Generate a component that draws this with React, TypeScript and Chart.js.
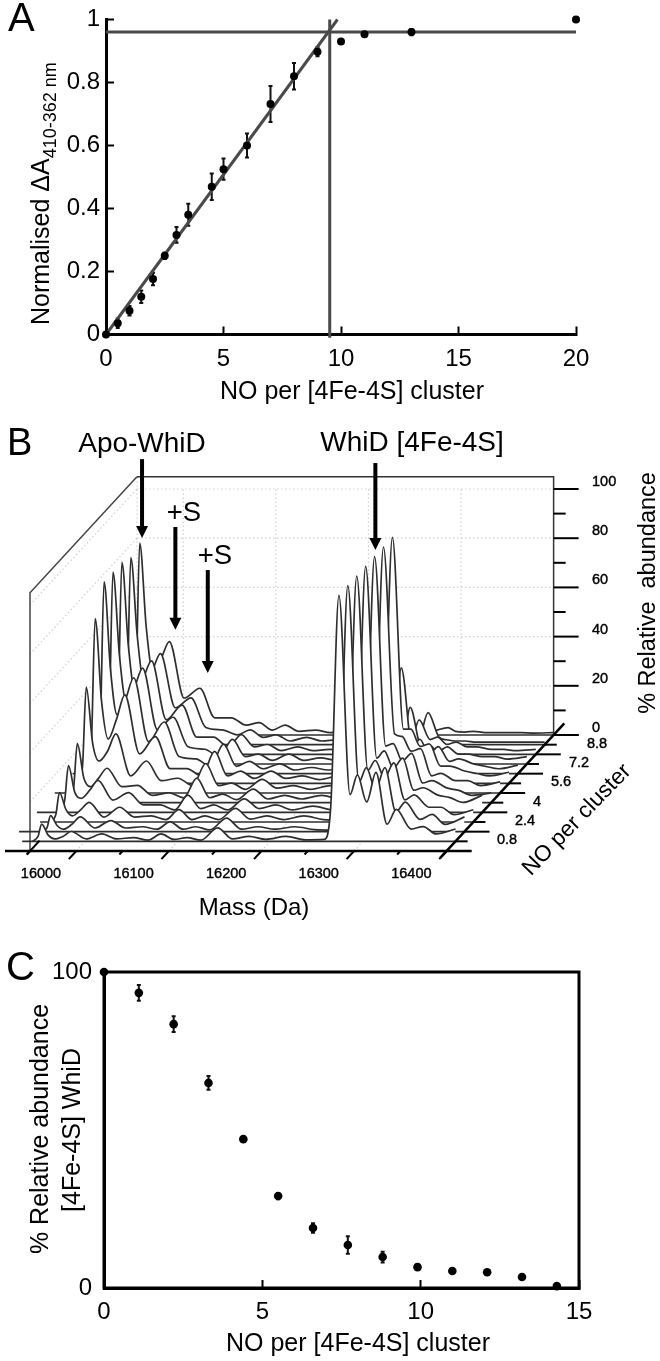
import React, { useEffect, useRef } from "react";
import { Chart, registerables } from "chart.js";

Chart.register(...registerables);
Chart.defaults.font.family = '"Liberation Sans", Arial, sans-serif';
Chart.defaults.color = "#000";

// ---------- Panel A ----------
const titrationNO = [0, 0.5, 1, 1.5, 2, 2.5, 3, 3.5, 4.5, 5, 6, 7, 8, 9, 10, 11, 13, 20];
const titrationAbs = [0, 0.036, 0.0755, 0.12, 0.176, 0.25, 0.316, 0.38, 0.469, 0.525, 0.6, 0.732, 0.82, 0.898, 0.93, 0.953, 0.96, 1.0];
const titrationErr = [0, 0.015, 0.015, 0.02, 0.02, 0.01, 0.025, 0.035, 0.042, 0.034, 0.038, 0.057, 0.042, 0.015, 0, 0, 0.01, 0];
const fitRise = [{ x: 0, y: 0 }, { x: 9.85, y: 1.0 }];
const fitPlateau = [{ x: 0, y: 0.96 }, { x: 20, y: 0.96 }];
const fitBreak = [{ x: 9.52, y: -0.01 }, { x: 9.52, y: 1.0 }];

// ---------- Panel C ----------
const clusterNO = [0, 1.1, 2.2, 3.3, 4.4, 5.5, 6.6, 7.7, 8.8, 9.9, 11, 12.1, 13.2, 14.3];
const clusterAbundance = [100, 93.4, 83.5, 64.9, 47.1, 29.1, 19, 13.6, 9.8, 6.6, 5.4, 5, 3.5, 0.6];
const clusterErr = [0, 2.5, 2.5, 2.2, 0, 1, 1.5, 2.8, 1.7, 0.8, 0, 0, 0, 0];

// ---------- Panel B ----------
const massGrid = [15993, 15999, 16003, 16010, 16017, 16026, 16035, 16051, 16068, 16084, 16102, 16118, 16132, 16146, 16160, 16175, 16193, 16209, 16227, 16245, 16267, 16288, 16308, 16315, 16324, 16336, 16344, 16354, 16364, 16376, 16386, 16402, 16415, 16429, 16450];
const traceNO = [0.8, 1.6, 2.4, 3.2, 4, 4.8, 5.6, 6.4, 7.2, 8, 8.8, 9.6];
const traceAbundance = [
  [0, 2, 7, 2.5, 1, 2, 4, 1, 3, 1, 1.5, 0.5, 3, 0.8, 1.5, 0.5, 5.5, 1, 2, 0.8, 2, 0.6, 0.8, 13, 100, 19, 27, 16, 28, 7, 13, 5, 6, 3, 5],
  [0, 1.5, 6.5, 2.5, 1, 3, 6, 1.5, 4.5, 1.5, 2, 1, 4, 1, 2, 0.7, 5.5, 1, 2, 1, 2, 0.8, 0.6, 13, 100, 20, 26, 17, 26, 8, 12, 5, 7, 3, 6],
  [0, 3, 12, 5, 2.5, 5, 8, 2, 6, 2, 2.5, 1, 5, 1, 2.5, 1, 5.5, 1.2, 2.5, 1, 2.5, 1, 0.8, 14, 100, 21, 25, 18, 24, 9, 11, 6, 6, 3, 5],
  [0, 5, 19, 8, 5.7, 9, 13, 5, 8, 3, 3, 1, 7, 1.5, 3, 1, 5.5, 1.5, 3, 1, 2.5, 1, 0.8, 14, 100, 22, 25, 18, 22, 9, 10, 7, 6, 4, 7],
  [0, 6, 24, 10, 6.5, 10, 14, 6.5, 7, 3, 4, 2, 10, 2, 3.5, 1.2, 5.5, 1.5, 3, 1.5, 3, 1.2, 1, 14, 100, 23, 24, 17, 20, 8, 9, 6, 5, 3, 4],
  [0, 11, 43, 20, 13, 17, 24, 7, 13, 5, 6, 3, 12, 3, 4, 1.5, 5.5, 2, 3, 1.5, 3, 1.2, 1, 14, 100, 24, 23, 17, 18, 7, 8, 5, 5, 3, 4.5],
  [0, 17, 67, 33, 18, 26, 36, 12, 19, 6, 6, 3, 13, 3, 5, 2, 5, 2, 3, 1.5, 3, 1.5, 1, 14, 100, 22, 22, 15, 16, 7, 7, 5, 4, 3, 4.5],
  [0, 20, 78, 42, 24, 30, 39, 13, 21, 7, 6, 3, 12, 3, 5, 2, 4, 1.5, 2.5, 1.5, 2.5, 1.2, 1, 6, 43, 10, 14, 8, 11, 5, 6, 4, 3, 2, 3.5],
  [0, 20, 78, 44, 26, 31, 39, 14, 19, 7, 6, 3, 10, 3, 4, 1.5, 4, 1.5, 2.5, 1.5, 2.5, 1.2, 0.8, 3, 23, 7, 8, 5, 7, 4, 4, 3, 3, 2, 3],
  [0, 20, 78, 44, 26, 31, 38, 14, 20, 7, 7, 3, 8, 3, 4, 1.5, 3, 1.5, 2, 1.5, 2, 1, 0.8, 3, 14, 6, 7, 4, 5, 3, 3, 2, 2, 1.5, 2],
  [0, 19, 76, 44, 26, 30, 37, 15, 19, 7, 6, 4, 6, 3, 4, 1.5, 3, 1.5, 2, 1, 2, 1, 0.8, 2.5, 13, 3, 2, 1.5, 1.5, 1, 1, 1, 1, 1, 1],
  [0, 20, 78, 44, 26, 31, 38, 15, 19, 7, 7, 4, 5, 2, 4, 1.5, 2, 1, 2, 1, 1.5, 1, 0.8, 1, 2, 3, 1.5, 1.2, 1.5, 1, 1, 1, 1, 0.8, 1],
];
const massTickLabels = [16000, 16100, 16200, 16300, 16400];
const massMinorTicks = [16000, 16050, 16100, 16150, 16200, 16250, 16300, 16350, 16400, 16450];
const abundanceTicks = [0, 20, 40, 60, 80, 100];
const abundanceMinorTicks = [0, 10, 20, 30, 40, 50, 60, 70, 80, 90, 100];
const wallGridMasses = [16050, 16150, 16250, 16350];
const wallGridLevels = [20, 40, 60, 80, 100];
const noLabels = ["0.8", "2.4", "4", "5.6", "7.2", "8.8"];
const arrowMass = [16121, 16157, 16192, 16373];
const arrowFrom = [159.3, 131.7, 114.2, 157.7];
const arrowTip = [127.2, 89.9, 72.4, 122.4];

// depth axis of the 3-D box, in axis units
const DEPTH_MASS = 115.5;
const DEPTH_ABUND = 47.15;
const MASS_END = 16450;
const WALL_TOP = 105;
const proj = (m: number, a: number, d: number) => ({ x: m + d * DEPTH_MASS, y: a + d * DEPTH_ABUND });

type Txt = { t: string; x: number; y: number; font: string; rot?: number; align?: CanvasTextAlign; heavy?: boolean };

const textPlugin = {
  id: "texts",
  afterDraw(chart: any, _a: any, opts: any) {
    const ctx = chart.ctx;
    (opts.items || []).forEach((it: Txt) => {
      ctx.save();
      ctx.translate(it.x, it.y);
      if (it.rot) ctx.rotate(it.rot);
      ctx.font = it.font;
      ctx.fillStyle = "#000";
      ctx.textAlign = it.align || "center";
      ctx.textBaseline = "middle";
      if (it.heavy) {
        ctx.strokeStyle = "#000";
        ctx.lineWidth = 0.4;
        ctx.strokeText(it.t, 0, 0);
      }
      ctx.fillText(it.t, 0, 0);
      ctx.restore();
    });
  },
};

const errorPlugin = {
  id: "errs",
  beforeDatasetsDraw(chart: any, _a: any, opts: any) {
    if (!opts.err) return;
    const { ctx, scales } = chart;
    ctx.save();
    ctx.strokeStyle = "#111";
    ctx.lineWidth = 2;
    opts.xs.forEach((x: number, i: number) => {
      const e = opts.err[i];
      if (!e) return;
      const px = scales.x.getPixelForValue(x);
      const lo = scales.y.getPixelForValue(opts.ys[i] - e);
      const hi = scales.y.getPixelForValue(opts.ys[i] + e);
      ctx.beginPath();
      ctx.moveTo(px, lo);
      ctx.lineTo(px, hi);
      ctx.moveTo(px - 2, lo);
      ctx.lineTo(px + 2, lo);
      ctx.moveTo(px - 2, hi);
      ctx.lineTo(px + 2, hi);
      ctx.stroke();
    });
    ctx.restore();
  },
};

const framePlugin = {
  id: "frame",
  beforeDatasetsDraw(chart: any, _a: any, opts: any) {
    if (!opts.on) return;
    const { ctx, chartArea: c } = chart;
    ctx.save();
    ctx.strokeStyle = "#000";
    ctx.lineWidth = 3;
    ctx.strokeRect(c.left, c.top, c.right - c.left, c.bottom - c.top);
    ctx.restore();
  },
};

const subscriptPlugin = {
  id: "subtitle",
  afterDraw(chart: any, _a: any, opts: any) {
    if (!opts.on) return;
    const ctx = chart.ctx;
    ctx.save();
    ctx.translate(49, 325);
    ctx.rotate(-Math.PI / 2);
    ctx.fillStyle = "#000";
    ctx.textBaseline = "alphabetic";
    ctx.font = '25px "Liberation Sans"';
    const main = "Normalised \u0394A";
    ctx.fillText(main, 0, 0);
    const w = ctx.measureText(main).width;
    ctx.font = '18px "Liberation Sans"';
    ctx.fillText("410-362 nm", w, 7);
    ctx.restore();
  },
};

const arrowPlugin = {
  id: "arrows",
  afterDatasetsDraw(chart: any, _a: any, opts: any) {
    if (!opts.on) return;
    const { ctx, scales } = chart;
    ctx.save();
    ctx.strokeStyle = "#000";
    ctx.fillStyle = "#000";
    arrowMass.forEach((m, i) => {
      const x = scales.x.getPixelForValue(m);
      const y0 = scales.y.getPixelForValue(arrowFrom[i]);
      const y1 = scales.y.getPixelForValue(arrowTip[i]);
      ctx.lineWidth = 4;
      ctx.beginPath();
      ctx.moveTo(x, y0);
      ctx.lineTo(x, y1 - 8);
      ctx.stroke();
      ctx.beginPath();
      ctx.moveTo(x - 6, y1 - 12);
      ctx.lineTo(x + 6, y1 - 12);
      ctx.lineTo(x, y1);
      ctx.closePath();
      ctx.fill();
    });
    ctx.restore();
  },
};

const plugins = [textPlugin, errorPlugin, framePlugin, subscriptPlugin, arrowPlugin];

const seg = (pts: { x: number; y: number }[], color: string, width: number, dash?: number[]) => ({
  data: pts,
  borderColor: color,
  borderWidth: width,
  borderDash: dash || [],
  pointRadius: 0,
  clip: false,
  fill: false,
  tension: 0,
});

function fixedBox(w: number | null, h: number | null) {
  return (s: any) => {
    if (w !== null) s.width = w;
    if (h !== null) s.height = h;
    s.paddingTop = 0;
    s.paddingBottom = 0;
    s.paddingLeft = 0;
    s.paddingRight = 0;
  };
}

function configA(): any {
  return {
    type: "line",
    data: {
      datasets: [
        {
          data: titrationNO.map((x, i) => ({ x, y: titrationAbs[i] })),
          showLine: false,
          pointRadius: 4,
          pointBackgroundColor: "#000",
          pointBorderWidth: 0,
          clip: false,
        },
        seg(fitRise, "#4a4a4a", 3),
        seg(fitPlateau, "#4a4a4a", 3),
        seg(fitBreak, "#4a4a4a", 3),
      ],
    },
    options: {
      responsive: false,
      animation: false,
      events: [],
      layout: { padding: { top: 19.5, right: 84 } },
      plugins: {
        legend: { display: false },
        tooltip: { enabled: false },
        errs: { xs: titrationNO, ys: titrationAbs, err: titrationErr },
        subtitle: { on: true },
        texts: {
          items: [
            { t: "A", x: 8, y: 20, font: '40px "Liberation Sans"', align: "left" },
            { t: "NO per [4Fe-4S] cluster", x: 352, y: 392, font: '25px "Liberation Sans"' },
          ],
        },
      },
      scales: {
        x: {
          type: "linear",
          min: 0,
          max: 20,
          afterFit: fixedBox(null, 95.5),
          ticks: { stepSize: 5, font: { size: 24 }, padding: 18, maxRotation: 0, color: "#000" },
          grid: { drawOnChartArea: false, tickLength: -8, tickWidth: 2, tickColor: "#000" },
          border: { color: "#000", width: 3 },
        },
        y: {
          min: 0,
          max: 1,
          afterFit: fixedBox(106, null),
          ticks: {
            stepSize: 0.2,
            font: { size: 24 },
            padding: 14,
            color: "#000",
            callback: (v: number) => String(Number(v.toFixed(1))),
          },
          grid: { drawOnChartArea: false, tickLength: -8, tickWidth: 2, tickColor: "#000" },
          border: { color: "#000", width: 3 },
        },
      },
    },
  };
}

function configB(): any {
  const datasets: any[] = [];
  const ink = "#2e2e2e";
  datasets.push(seg([proj(15973, 0, 0), proj(16477, 0, 0)], "#000", 2.5));
  datasets.push(seg([proj(MASS_END, 0, -0.06), proj(MASS_END, 0, 1.1)], "#000", 2.5));
  datasets.push(seg([proj(16000, 0, -0.03), proj(16000, 0, 0.09)], "#000", 2));
  massMinorTicks.forEach((m, i) => {
    datasets.push(seg([proj(m, 0, 0), proj(m, 0, i % 2 ? -0.07 : -0.03)], "#000", 2));
  });
  traceNO.forEach((_n, k) => {
    const d = (k + 1) / 12;
    const long = k % 2 === 1;
    datasets.push(seg([proj(MASS_END, 0, d), proj(MASS_END + (long ? 27 : 13), 0, d)], "#000", 2));
  });
  abundanceMinorTicks.forEach((a, i) => {
    datasets.push(seg([proj(MASS_END, a, 1), proj(MASS_END + (i % 2 ? 13 : 27), a, 1)], "#000", 2));
  });
  // traces, front first (index 0 is painted last)
  traceNO.forEach((_n, k) => {
    const d = (k + 1) / 12;
    const base = proj(0, 0, d).y;
    const left = massGrid[0] + (k % 2 === 1 ? -24 : -11);
    datasets.push(seg([proj(left, 0, d), proj(MASS_END, 0, d)], ink, 1.7));
    datasets.push({
      data: massGrid.map((m, j) => proj(m, traceAbundance[k][j], d)),
      borderColor: ink,
      borderWidth: 1.7,
      pointRadius: 0,
      cubicInterpolationMode: "monotone",
      clip: false,
      backgroundColor: "#fff",
      fill: { value: base },
    });
  });
  // walls of the box
  datasets.push(seg([proj(16000, WALL_TOP, 1), proj(MASS_END, WALL_TOP, 1), proj(MASS_END, 0, 1)], "#333", 1.5));
  datasets.push(seg([proj(16000, 0, 0), proj(16000, WALL_TOP, 0), proj(16000, WALL_TOP, 1)], "#444", 1.5));
  datasets.push(seg([proj(16000, 0, 1), proj(16000, WALL_TOP, 1)], "#ccc", 1, [1.5, 2.5]));
  wallGridLevels.forEach((a) => {
    datasets.push(seg([proj(16000, a, 1), proj(MASS_END, a, 1)], "#cfcfcf", 1.2, [1.5, 2.5]));
    datasets.push(seg([proj(16000, a, 0), proj(16000, a, 1)], "#cfcfcf", 1.2, [1.5, 2.5]));
  });
  wallGridMasses.forEach((m) => {
    datasets.push(seg([proj(m, 0, 1), proj(m, 100, 1)], "#cfcfcf", 1.2, [1.5, 2.5]));
    datasets.push(seg([proj(m, 0, 0), proj(m, 0, 1)], "#cfcfcf", 1.2, [1.5, 2.5]));
  });

  const tickFont = '14.5px "Liberation Sans"';
  const items: Txt[] = [
    { t: "B", x: 7, y: 25, font: '38px "Liberation Sans"', align: "left" },
    { t: "Apo-WhiD", x: 142, y: 24, font: '28px "Liberation Sans"' },
    { t: "WhiD [4Fe-4S]", x: 412, y: 23, font: '28px "Liberation Sans"' },
    { t: "+S", x: 184, y: 93, font: '27.5px "Liberation Sans"' },
    { t: "+S", x: 215, y: 136, font: '27.5px "Liberation Sans"' },
    { t: "Mass (Da)", x: 254, y: 488, font: '24px "Liberation Sans"' },
    { t: "% Relative  abundance", x: 649, y: 173, font: '23.5px "Liberation Sans"', rot: -Math.PI / 2 },
    { t: "NO per cluster", x: 577, y: 400, font: '22.5px "Liberation Sans"', rot: (-46 * Math.PI) / 180 },
  ];
  noLabels.forEach((t, i) => {
    items.push({ t, x: 497 + 18 * i, y: 420 - 19.2 * i, font: tickFont, align: "left", heavy: true });
  });

  return {
    type: "line",
    data: { datasets },
    options: {
      responsive: false,
      animation: false,
      events: [],
      layout: { padding: { top: 20 } },
      plugins: {
        legend: { display: false },
        tooltip: { enabled: false },
        filler: { drawTime: "beforeDatasetDraw", propagate: false },
        arrows: { on: true },
        texts: { items },
      },
      scales: {
        x: {
          type: "linear",
          min: 15967.6,
          max: 16567,
          afterFit: fixedBox(null, 79),
          afterBuildTicks: (s: any) => {
            s.ticks = massTickLabels.map((value) => ({ value }));
          },
          ticks: {
            autoSkip: false,
            maxRotation: 0,
            labelOffset: 11,
            padding: 14,
            font: { size: 14.5 },
            color: "#000",
            textStrokeColor: "#000",
            textStrokeWidth: 0.4,
            callback: (v: number) => String(v),
          },
          grid: { display: false, drawTicks: false },
          border: { display: false },
        },
        y: {
          position: "right",
          min: 0,
          max: 167.07,
          afterFit: fixedBox(105, null),
          afterBuildTicks: (s: any) => {
            s.ticks = abundanceTicks.map((a) => ({ value: a + DEPTH_ABUND }));
          },
          ticks: {
            autoSkip: false,
            labelOffset: -7,
            padding: 37,
            font: { size: 14.5 },
            color: "#000",
            textStrokeColor: "#000",
            textStrokeWidth: 0.4,
            callback: (v: number) => String(Math.round(v - DEPTH_ABUND)),
          },
          grid: { display: false, drawTicks: false },
          border: { display: false },
        },
      },
    },
  };
}

function configC(): any {
  return {
    type: "line",
    data: {
      datasets: [
        {
          data: clusterNO.map((x, i) => ({ x, y: clusterAbundance[i] })),
          showLine: false,
          pointRadius: 4.3,
          pointBackgroundColor: "#000",
          pointBorderWidth: 0,
          clip: false,
        },
      ],
    },
    options: {
      responsive: false,
      animation: false,
      events: [],
      layout: { padding: { top: 42, right: 81 } },
      plugins: {
        legend: { display: false },
        tooltip: { enabled: false },
        errs: { xs: clusterNO, ys: clusterAbundance, err: clusterErr },
        frame: { on: true },
        texts: {
          items: [
            { t: "C", x: 6, y: 39, font: '40px "Liberation Sans"', align: "left" },
            { t: "NO per [4Fe-4S] cluster", x: 358, y: 414, font: '25px "Liberation Sans"' },
            { t: "% Relative abundance", x: 41, y: 199, font: '25px "Liberation Sans"', rot: -Math.PI / 2 },
            { t: "[4Fe-4S] WhiD", x: 73, y: 200, font: '25px "Liberation Sans"', rot: -Math.PI / 2 },
          ],
        },
      },
      scales: {
        x: {
          type: "linear",
          min: 0,
          max: 15,
          afterFit: fixedBox(null, 73),
          ticks: { stepSize: 5, font: { size: 24 }, padding: 18, maxRotation: 0, color: "#000" },
          grid: { drawOnChartArea: false, tickLength: -8, tickWidth: 2, tickColor: "#000" },
          border: { color: "#000", width: 3 },
        },
        y: {
          min: 0,
          max: 100,
          afterFit: fixedBox(104, null),
          afterBuildTicks: (s: any) => {
            s.ticks = [{ value: 0 }, { value: 100 }];
          },
          ticks: { font: { size: 24 }, padding: 4, color: "#000" },
          grid: { display: false },
          border: { color: "#000", width: 3 },
        },
      },
    },
  };
}

function Panel({ top, height, config }: { top: number; height: number; config: () => any }) {
  const ref = useRef<HTMLCanvasElement>(null);
  useEffect(() => {
    const chart = new Chart(ref.current as HTMLCanvasElement, { ...config(), plugins });
    return () => chart.destroy();
  }, [config]);
  return (
    <canvas
      ref={ref}
      width={660}
      height={height}
      style={{ position: "absolute", left: 0, top, width: 660, height, display: "block" }}
    />
  );
}

export default function App() {
  return (
    <div style={{ position: "absolute", left: 0, top: 0, width: 660, height: 1361, background: "#fff", overflow: "hidden" }}>
      <Panel top={420} height={510} config={configB} />
      <Panel top={0} height={430} config={configA} />
      <Panel top={930} height={431} config={configC} />
    </div>
  );
}
